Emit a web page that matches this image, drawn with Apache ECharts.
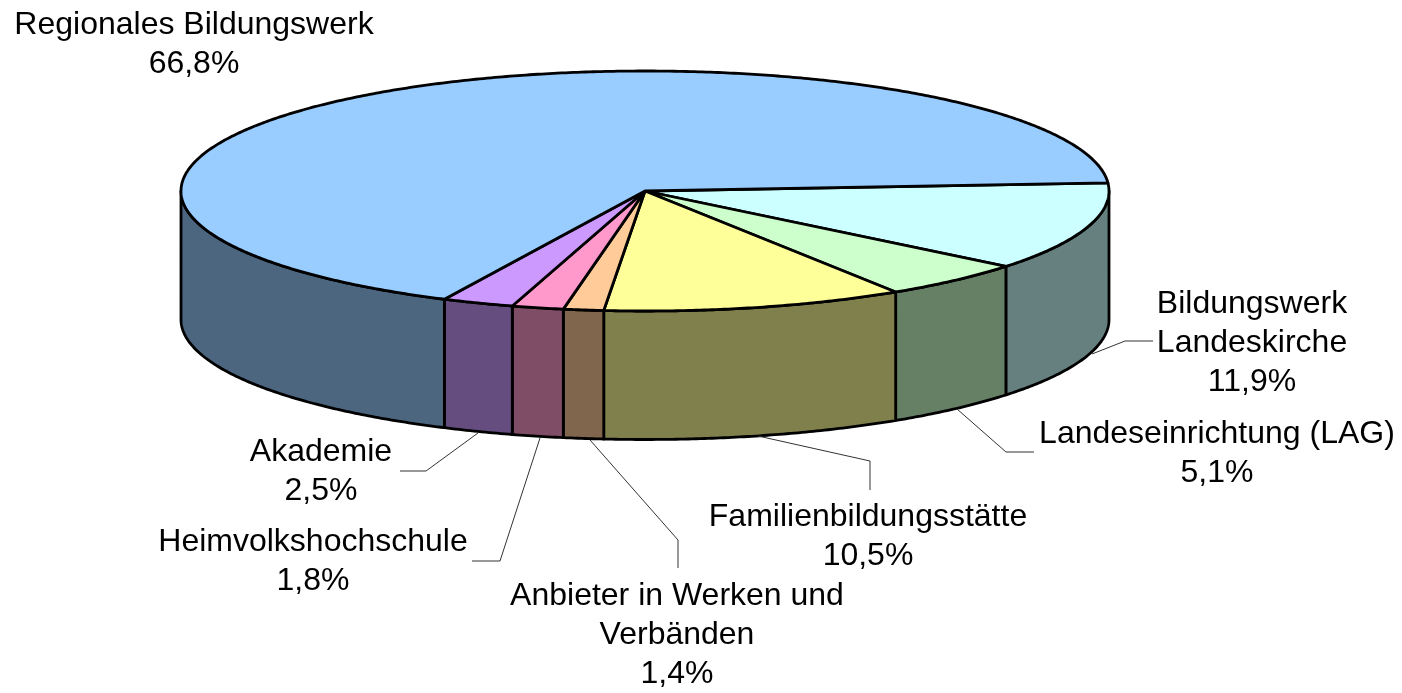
<!DOCTYPE html>
<html><head><meta charset="utf-8">
<style>html,body{margin:0;padding:0;background:#fff}#c{width:1402px;height:693px}</style>
<script src="https://cdn.jsdelivr.net/npm/echarts@6/dist/echarts.min.js"></script>
</head><body><div id="c"></div>
<script>
// Data, clockwise from the right-hand edge of the pie
const categories = ['Bildungswerk\nLandeskirche','Landeseinrichtung (LAG)','Familienbildungsstätte','Anbieter in Werken und\nVerbänden','Heimvolkshochschule','Akademie','Regionales Bildungswerk'];
const shares = [11.9,5.1,10.5,1.4,1.8,2.5,66.8];
const topColors = ['#CCFFFF','#CCFFCC','#FFFF99','#FFCC99','#FF99CC','#CC99FF','#99CCFF'];
const wallColors = ['#668080','#668066','#80804D','#80664D','#804D66','#664D80','#4D6680'];
// Layout
const CX=645, CY=191, RX=464, RY=120, DEPTH=128.5, START=-3.9;
const labelCenters = [[1252,343],[1217,454],[868,537],[677,635],[313,562],[321,472],[194,45]];
const leaders = [
 [[1092,354],[1125,341],[1153,341]],
 [[957,409],[1006,452],[1034,452]],
 [[758,436],[870,461],[870,490]],
 [[590,440],[678,540],[678,568]],
 [[540,438],[500,561],[472,561]],
 [[478,433],[426,471],[400,471]],
 null
];
const FONT='"Liberation Sans", Arial, sans-serif';
const pt=(deg,dy)=>{const a=deg*Math.PI/180;return [CX+RX*Math.cos(a),CY+RY*Math.sin(a)+(dy||0)];};
const arc=(a0,a1,dy)=>{const n=Math.max(2,Math.ceil(Math.abs(a1-a0)*2)),p=[];for(let i=0;i<=n;i++)p.push(pt(a0+(a1-a0)*i/n,dy));return p;};
const bounds=[];let acc=START;
shares.forEach(v=>{bounds.push([acc,acc+v*3.6]);acc+=v*3.6;});
const stroke={stroke:'#000',lineWidth:2.8,lineJoin:'round'};
function renderItem(params,api){
  const i=params.dataIndex,[a0,a1]=bounds[i],ch=[];
  // side wall: the visible part of the rim lies between 0 and 180 degrees
  const w0=Math.max(a0,0),w1=Math.min(a1,180);
  if(w1>w0){
    const pts=arc(w0,w1,0).concat(arc(w1,w0,DEPTH));
    ch.push({type:'polygon',z2:1,shape:{points:pts},style:{fill:wallColors[i],...stroke}});
  }
  const top=[[CX,CY]].concat(arc(a0,a1,0));
  ch.push({type:'polygon',z2:2,shape:{points:top},style:{fill:topColors[i],...stroke}});
  if(leaders[i]) ch.push({type:'polyline',z2:3,shape:{points:leaders[i]},style:{fill:null,stroke:'#333',lineWidth:1}});
  const val=String(api.value(0).toFixed(1)).replace('.',',')+'%';
  ch.push({type:'text',z2:4,x:labelCenters[i][0],y:labelCenters[i][1],style:{text:categories[i]+'\n'+val,font:'32px '+FONT,fill:'#000',align:'center',verticalAlign:'middle',lineHeight:39}});
  return {type:'group',children:ch};
}
const chart=echarts.init(document.getElementById('c'),null,{renderer:'canvas'});
chart.setOption({animation:false,backgroundColor:'#fff',
 series:[{type:'custom',coordinateSystem:'none',renderItem,silent:true,clip:false,data:shares.map(v=>[v])}]});
</script></body></html>
